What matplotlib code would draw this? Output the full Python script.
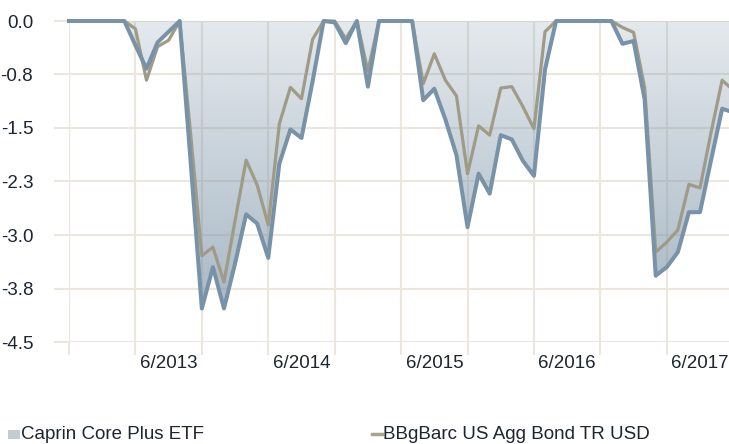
import numpy as np
import matplotlib.pyplot as plt
from matplotlib.patches import Rectangle
from matplotlib.lines import Line2D

plt.rcParams['font.family'] = ['Liberation Sans', 'DejaVu Sans']

# monthly drawdown (%), month 0 = first observation
months = np.arange(61)
caprin = [0, 0, 0, 0, 0, 0, -0.34, -0.67, -0.30, -0.15,
          0, -2.0, -4.03, -3.45, -4.03, -3.4, -2.71, -2.84, -3.32, -2.0,
          -1.52, -1.64, -0.85, 0, -0.02, -0.31, 0, -0.92, 0, 0,
          0, 0, -1.11, -0.95, -1.38, -1.88, -2.89, -2.14, -2.42, -1.60,
          -1.66, -1.96, -2.17, -0.68, 0, 0, 0, 0, 0, 0,
          -0.32, -0.28, -1.10, -3.57, -3.45, -3.24, -2.68, -2.68, -1.95, -1.23,
          -1.28]
bench = [0, 0, 0, 0, 0, 0, -0.11, -0.83, -0.36, -0.27,
         0, -1.6, -3.29, -3.17, -3.66, -2.8, -1.95, -2.30, -2.86, -1.44,
         -0.93, -1.09, -0.26, 0, 0, -0.25, 0, -0.7, 0, 0,
         0, 0, -0.88, -0.46, -0.83, -1.05, -2.14, -1.47, -1.6, -0.94,
         -0.92, -1.2, -1.51, -0.15, 0, 0, 0, 0, 0, 0,
         -0.09, -0.16, -0.93, -3.24, -3.10, -2.93, -2.29, -2.34, -1.56, -0.83,
         -0.97]

y_ticks = [0, -0.75, -1.5, -2.25, -3.0, -3.75, -4.5]
y_labels = ['0.0', '-0.8', '-1.5', '-2.3', '-3.0', '-3.8', '-4.5']
x_label_pos = [9, 21, 33, 45, 57]
x_labels = ['6/2013', '6/2014', '6/2015', '6/2016', '6/2017']
grid_pos = np.arange(0, 60, 6)

names = ['Caprin Core Plus ETF', 'BBgBarc US Agg Bond TR USD']

blue = '#7893a7'
tan = '#9f9b87'
gc = '#ebe7df'
txt = '#1e2530'

W, H = 729, 444
fig = plt.figure(figsize=(W / 100, H / 100), dpi=100)
ax = fig.add_axes([69 / W, 1 - 342 / H, 660 / W, 321 / H])

# gradient area under the fund line
poly = ax.fill_between(months, caprin, 0, facecolor='none', edgecolor='none')
base = np.array([120, 145, 165]) / 255
alpha = np.linspace(0.2, 0.69, 256)
img = np.zeros((256, 1, 4))
img[:, 0, :3] = base
img[:, 0, 3] = alpha
im = ax.imshow(img, extent=[0, 60, -4.5, 0], aspect='auto', origin='upper', zorder=1.5)
im.set_clip_path(poly.get_paths()[0], transform=ax.transData)

ax.plot(months, bench, color=tan, lw=2.3, zorder=3, clip_on=False)
ax.plot(months, caprin, color=blue, lw=2.9, zorder=4, clip_on=False)

ax.set_xlim(0, 59.62)
ax.set_ylim(-4.5, 0)

ax.set_yticks(y_ticks, y_labels)
ax.set_xticks(x_label_pos, x_labels)
ax.set_xticks(grid_pos, minor=True)
ax.set_axisbelow(True)
ax.grid(True, which='major', axis='y', color=gc, lw=1.5)
ax.grid(True, which='minor', axis='x', color=gc, lw=1.5)
ax.tick_params(axis='y', length=10.8, width=1.5, color=gc, pad=15, labelsize=13.5, labelcolor=txt)
ax.tick_params(axis='x', which='major', length=0, pad=9, labelsize=13.5, labelcolor=txt)
ax.tick_params(axis='x', which='minor', length=9.4, width=1.5, color=gc)
for s in ax.spines.values():
    s.set_visible(False)

# legend
ly = 1 - 434 / H
fig.patches.append(Rectangle((8 / W, ly - 4.5 / H), 12 / W, 9 / H, transform=fig.transFigure,
                             facecolor='#c3ccd4', edgecolor='none'))
fig.text(21 / W, ly, names[0], fontsize=13.5, color=txt, va='center', ha='left')
fig.lines.append(Line2D([372 / W, 382 / W], [ly, ly], transform=fig.transFigure, color='#aaa48e', lw=2.5))
fig.text(383 / W, ly, names[1], fontsize=13.5, color=txt, va='center', ha='left')

fig.savefig('out.png', dpi=100)
